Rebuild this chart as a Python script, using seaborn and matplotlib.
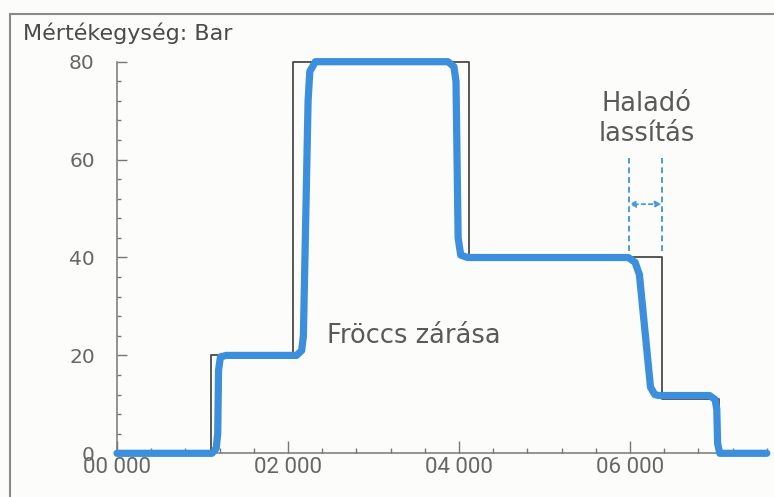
import matplotlib
matplotlib.use("Agg")
import matplotlib.pyplot as plt
from matplotlib.ticker import MultipleLocator, FixedLocator
from matplotlib.lines import Line2D
import seaborn as sns
import pandas as pd

# ---- data ----
step_time = [0, 1100, 2060, 4120, 6380, 7040, 7600]
step_bar = [0, 20, 80, 40, 11, 0, 0]

blue_time = [0, 1110, 1160, 1178, 1188, 1210, 1280,
             2100, 2160, 2180, 2235, 2255, 2320,
             3870, 3940, 3965, 3990, 4020, 4100,
             5980, 6060, 6110, 6240, 6290, 6340,
             6930, 6995, 7015, 7025, 7050, 7600]
blue_bar = [0, 0, 1, 4, 17, 19.7, 20,
            20, 21, 24, 72, 78, 80,
            80, 79, 76, 44, 40.5, 40,
            40, 39, 36.5, 13.5, 12, 11.8,
            11.8, 11, 9, 2, 0, 0]

x_ticks = [0, 2000, 4000, 6000]
x_tick_labels = ["00 000", "02 000", "04 000", "06 000"]
y_ticks = [0, 20, 40, 60, 80]

title_text = "Mértékegység: Bar"
label_closing = "Fröccs zárása"
label_slow = ["Haladó", "lassítás"]
slow_start, slow_end = 5990, 6370

# ---- style ----
sns.set_style("white")
plt.rcParams["font.family"] = ["DejaVu Sans"]

BG = "#fcfcfa"
BLUE = "#3b8fdc"
DASH = "#4a9bdc"
GREY_TXT = "#5a5a5a"
AX = "#777777"

fig = plt.figure(figsize=(7.74, 4.97), dpi=100, facecolor=BG)
ax = fig.add_axes([117 / 774, 43.7 / 497, 651.5 / 774, 391.6 / 497])
ax.set_facecolor(BG)

df_step = pd.DataFrame({"t": step_time, "bar": step_bar})
df_blue = pd.DataFrame({"t": blue_time, "bar": blue_bar})

sns.lineplot(data=df_step, x="t", y="bar", ax=ax, color="#4a4a4a", lw=1.3,
             drawstyle="steps-post", estimator=None, sort=False, clip_on=False,
             zorder=3)
sns.lineplot(data=df_blue, x="t", y="bar", ax=ax, color=BLUE, lw=5.2,
             estimator=None, sort=False, clip_on=False, zorder=4,
             solid_joinstyle="round", solid_capstyle="round")

ax.set_xlim(0, 7620)
ax.set_ylim(0, 80)
ax.set_xlabel("")
ax.set_ylabel("")

for s in ["top", "right"]:
    ax.spines[s].set_visible(False)
for s in ["left", "bottom"]:
    ax.spines[s].set_color(AX)
    ax.spines[s].set_linewidth(1.1)

ax.xaxis.set_major_locator(FixedLocator(x_ticks))
ax.set_xticklabels(x_tick_labels)
ax.xaxis.set_minor_locator(MultipleLocator(400))
ax.yaxis.set_major_locator(FixedLocator(y_ticks))
ax.yaxis.set_minor_locator(MultipleLocator(4))

ax.tick_params(which="both", bottom=True, left=True, top=False, right=False)
ax.tick_params(axis="x", which="major", direction="in", length=9, width=1,
               color=AX, labelsize=16, labelcolor="#666666", pad=3)
ax.tick_params(axis="x", which="minor", direction="in", length=3.5, width=1,
               color=AX)
ax.tick_params(axis="y", which="major", direction="in", length=7, width=1,
               color=AX, labelsize=14.5, labelcolor="#666666", pad=16)
ax.tick_params(axis="y", which="minor", direction="in", length=3, width=1,
               color=AX)
for lab in ax.get_xticklabels():
    lab.set_family(["Roboto", "DejaVu Sans"])

# annotations
ax.text(3474, 23.9, label_closing, ha="center", va="center", fontsize=18.5,
        color=GREY_TXT)
ax.text(6195, 71.3, label_slow[0], ha="center", va="center", fontsize=18.5,
        color=GREY_TXT)
ax.text(6195, 65.2, label_slow[1], ha="center", va="center", fontsize=18.5,
        color=GREY_TXT)

ax.vlines([slow_start, slow_end], 41.3, 60.4, colors=DASH, lw=1.4,
          linestyles=(0, (3, 2)), zorder=2)
ax.annotate("", xy=(slow_start, 50.9), xytext=(slow_end, 50.9),
            arrowprops=dict(arrowstyle="<|-|>", color=DASH, lw=1.3,
                            linestyle=(0, (2, 2)), mutation_scale=9,
                            shrinkA=0, shrinkB=0))

# title
fig.text(23 / 774, 1 - 33 / 497, title_text, ha="left", va="center",
         fontsize=16, color="#4a4a4a")

# frame (top and left edges visible)
fig.add_artist(Line2D([9.5 / 774, 9.5 / 774], [-0.01, 1 - 14 / 497],
                      transform=fig.transFigure, color="#8a8a8a", lw=1.5))
fig.add_artist(Line2D([9.5 / 774, 1.01], [1 - 14 / 497, 1 - 14 / 497],
                      transform=fig.transFigure, color="#8a8a8a", lw=1.5))

fig.savefig("out.png", dpi=100, facecolor=BG)
